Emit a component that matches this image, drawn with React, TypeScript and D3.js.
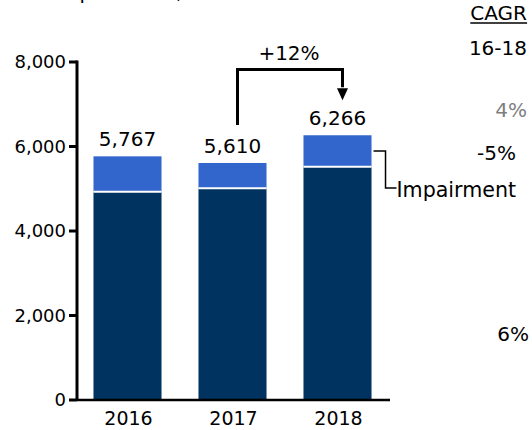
import React, { useEffect, useRef } from "react";
import * as d3 from "d3";

const W = 532;
const H = 430;

// Data
const years = ["2016", "2017", "2018"];
const baseValues = [4930, 5010, 5520];
const impairmentValues = [837, 600, 746];
const totalLabels = ["5,767", "5,610", "6,266"];
const yTicks = [0, 2000, 4000, 6000, 8000];
const cagrHeader = ["CAGR", "16-18"];
const cagrTotal = "4%";
const cagrImpairment = "-5%";
const cagrBase = "6%";
const growthLabel = "+12%";

const NAVY = "#00335f";
const BLUE = "#3366cc";
const FONT = "'DejaVu Sans', Verdana, sans-serif";

function renderChart(svgEl: SVGSVGElement) {
  const svg = d3.select(svgEl);
  svg.selectAll("*").remove();

  const x = d3.scaleBand<string>()
    .domain(years)
    .range([75, 390])
    .paddingInner(0.352)
    .paddingOuter(0.176);

  const y = d3.scaleLinear().domain([0, 8000]).range([400, 62]);

  const bw = x.bandwidth();
  const rows = years.map((yr, i) => ({
    year: yr,
    base: baseValues[i],
    imp: impairmentValues[i],
    total: baseValues[i] + impairmentValues[i],
    label: totalLabels[i],
  }));

  const g = svg.append("g").style("font-family", FONT);

  // title (cut off at the top, as in the source)
  g.append("text")
    .attr("x", 55)
    .attr("y", -1)
    .style("font-size", "20px")
    .attr("fill", "#000")
    .text("Expenditure, € million");

  // bars
  g.selectAll(".base")
    .data(rows)
    .enter()
    .append("rect")
    .attr("class", "base")
    .attr("x", d => x(d.year)!)
    .attr("width", bw)
    .attr("y", d => y(d.base))
    .attr("height", d => y(0) - y(d.base))
    .attr("fill", NAVY);

  g.selectAll(".imp")
    .data(rows)
    .enter()
    .append("rect")
    .attr("class", "imp")
    .attr("x", d => x(d.year)!)
    .attr("width", bw)
    .attr("y", d => y(d.total))
    .attr("height", d => y(d.base) - y(d.total))
    .attr("fill", BLUE);

  // white separators
  g.selectAll(".sep")
    .data(rows)
    .enter()
    .append("line")
    .attr("x1", d => x(d.year)!)
    .attr("x2", d => x(d.year)! + bw)
    .attr("y1", d => y(d.base))
    .attr("y2", d => y(d.base))
    .attr("stroke", "#fff")
    .attr("stroke-width", 2);

  // total labels
  g.selectAll(".val")
    .data(rows)
    .enter()
    .append("text")
    .attr("x", d => x(d.year)! + bw / 2)
    .attr("y", d => y(d.total) - 10)
    .attr("text-anchor", "middle")
    .style("font-size", "20px")
    .text(d => d.label);

  // y axis
  const axisX = 77;
  g.append("line")
    .attr("x1", axisX).attr("x2", axisX)
    .attr("y1", y(8000) - 1.5).attr("y2", y(0) + 1)
    .attr("stroke", "#000").attr("stroke-width", 3);

  yTicks.forEach(t => {
    g.append("line")
      .attr("x1", 69).attr("x2", axisX)
      .attr("y1", y(t)).attr("y2", y(t))
      .attr("stroke", "#000").attr("stroke-width", 3);
    g.append("text")
      .attr("x", 66)
      .attr("y", y(t))
      .attr("dy", "0.36em")
      .attr("text-anchor", "end")
      .style("font-size", "18px")
      .text(d3.format(",")(t));
  });

  // x axis
  g.append("line")
    .attr("x1", axisX).attr("x2", 390)
    .attr("y1", y(0)).attr("y2", y(0))
    .attr("stroke", "#000").attr("stroke-width", 2.5);

  g.selectAll(".year")
    .data(years)
    .enter()
    .append("text")
    .attr("x", d => x(d)! + bw / 2 + 1)
    .attr("y", 425)
    .attr("text-anchor", "middle")
    .style("font-size", "19px")
    .text(d => d);

  // growth bracket 2017 -> 2018
  const xa = x(years[1])! + bw / 2 + 5;
  const xb = x(years[2])! + bw / 2 + 5;
  const top = 69.5;
  g.append("path")
    .attr("d", `M${xa},${y(rows[1].total) - 38} V${top} H${xb} V${y(rows[2].total) - 48}`)
    .attr("fill", "none")
    .attr("stroke", "#000")
    .attr("stroke-width", 3);
  const tipY = y(rows[2].total) - 35;
  g.append("path")
    .attr("d", `M${xb - 5.5},${tipY - 12} L${xb + 5.5},${tipY - 12} L${xb},${tipY} Z`)
    .attr("fill", "#000");
  g.append("text")
    .attr("x", (xa + xb) / 2 - 1)
    .attr("y", 60)
    .attr("text-anchor", "middle")
    .style("font-size", "20px")
    .text(growthLabel);

  // impairment leader
  const last = rows[2];
  const midImp = (y(last.total) + y(last.base)) / 2;
  const lx = x(last.year)! + bw + 2;
  g.append("path")
    .attr("d", `M${lx},${midImp} H${lx + 12} V188 H${lx + 23}`)
    .attr("fill", "none")
    .attr("stroke", "#000")
    .attr("stroke-width", 1.5);
  g.append("text")
    .attr("x", lx + 23)
    .attr("y", 197)
    .style("font-size", "20.6px")
    .text("Impairment");

  // CAGR column
  const head = g.append("text")
    .attr("x", 527)
    .attr("y", 20)
    .attr("text-anchor", "end")
    .style("font-size", "20px")
    .text(cagrHeader[0]);
  const bb = (head.node() as SVGTextElement).getBBox();
  g.append("line")
    .attr("x1", bb.x).attr("x2", bb.x + bb.width)
    .attr("y1", 23).attr("y2", 23)
    .attr("stroke", "#000").attr("stroke-width", 1.5);
  g.append("text")
    .attr("x", 527).attr("y", 55)
    .attr("text-anchor", "end")
    .style("font-size", "20px")
    .text(cagrHeader[1]);
  g.append("text")
    .attr("x", 527).attr("y", 117)
    .attr("text-anchor", "end")
    .attr("fill", "#7f7f7f")
    .style("font-size", "20px")
    .text(cagrTotal);
  g.append("text")
    .attr("x", 516).attr("y", 160)
    .attr("text-anchor", "end")
    .style("font-size", "20px")
    .text(cagrImpairment);
  g.append("text")
    .attr("x", 529).attr("y", 341)
    .attr("text-anchor", "end")
    .style("font-size", "20px")
    .text(cagrBase);
}

export default function App() {
  const svgRef = useRef<SVGSVGElement>(null);

  useEffect(() => {
    if (svgRef.current) renderChart(svgRef.current);
  }, []);

  return (
    <svg
      ref={svgRef}
      width={W}
      height={H}
      style={{ position: "absolute", left: 0, top: 0, background: "#fff" }}
    />
  );
}
